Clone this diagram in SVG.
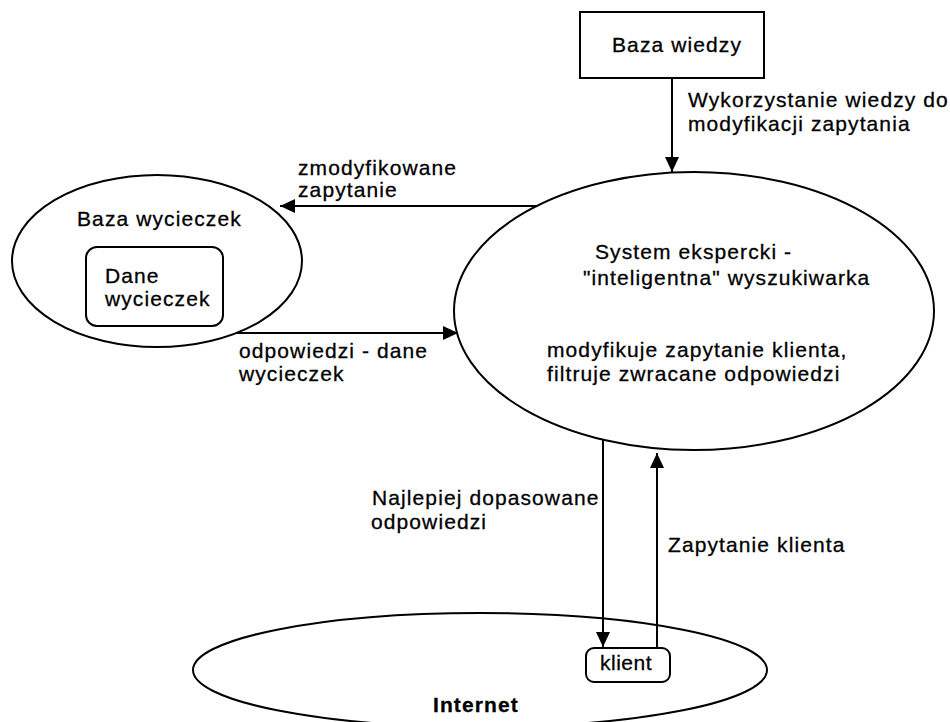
<svg xmlns="http://www.w3.org/2000/svg" width="950" height="722" viewBox="0 0 950 722">
<style>
  .shape { fill: none; stroke: #000; stroke-width: 2; }
  .line { fill: none; stroke: #000; stroke-width: 2; }
  text { font-family: "Liberation Sans", Arial, sans-serif; font-size: 21px; fill: #000; stroke: #000; stroke-width: 0.3px; letter-spacing: 1.1px; }
  .bold { font-weight: bold; }
</style>
<defs>
  <marker id="arrow" markerUnits="userSpaceOnUse" markerWidth="16" markerHeight="14" refX="15" refY="7" orient="auto">
    <path d="M0,0 L15,7 L0,14 Z" fill="#000"/>
  </marker>
</defs>
<rect width="950" height="722" fill="#fff"/>

<g id="baza-wiedzy">
  <rect class="shape" x="580" y="12" width="184" height="66"/>
  <text x="612" y="52">Baza wiedzy</text>
</g>

<g id="system-ekspercki">
  <ellipse class="shape" cx="694" cy="311" rx="240" ry="139"/>
  <text x="595" y="259">System ekspercki -</text>
  <text x="583" y="285">"inteligentna" wyszukiwarka</text>
  <text x="547" y="357">modyfikuje zapytanie klienta,</text>
  <text x="547" y="381">filtruje zwracane odpowiedzi</text>
</g>

<g id="baza-wycieczek">
  <ellipse class="shape" cx="157" cy="261" rx="145" ry="86"/>
  <text x="77" y="226">Baza wycieczek</text>
</g>

<g id="dane-wycieczek">
  <rect class="shape" x="86" y="247" width="137" height="79" rx="11" ry="11"/>
  <text x="105" y="283">Dane</text>
  <text x="105" y="306">wycieczek</text>
</g>

<g id="internet">
  <ellipse class="shape" cx="480" cy="670" rx="287" ry="57"/>
  <text class="bold" x="433" y="712">Internet</text>
</g>

<g id="klient">
  <rect class="shape" x="586" y="648" width="84" height="34" rx="8" ry="8"/>
  <text x="600" y="670" style="letter-spacing:0.5px">klient</text>
</g>

<g id="connectors">
  <line class="line" x1="672" y1="78" x2="672" y2="172" marker-end="url(#arrow)"/>
  <line class="line" x1="536" y1="206" x2="280" y2="206" marker-end="url(#arrow)"/>
  <line class="line" x1="236" y1="333" x2="458" y2="333" marker-end="url(#arrow)"/>
  <line class="line" x1="603" y1="440" x2="603" y2="647" marker-end="url(#arrow)"/>
  <line class="line" x1="657" y1="648" x2="657" y2="453" marker-end="url(#arrow)"/>
</g>

<g id="labels">
  <text x="688" y="107">Wykorzystanie wiedzy do</text>
  <text x="688" y="131">modyfikacji zapytania</text>
  <text x="298" y="175">zmodyfikowane</text>
  <text x="298" y="197">zapytanie</text>
  <text x="239" y="358">odpowiedzi - dane</text>
  <text x="239" y="381">wycieczek</text>
  <text x="372" y="505">Najlepiej dopasowane</text>
  <text x="371" y="529">odpowiedzi</text>
  <text x="668" y="552">Zapytanie klienta</text>
</g>
</svg>
